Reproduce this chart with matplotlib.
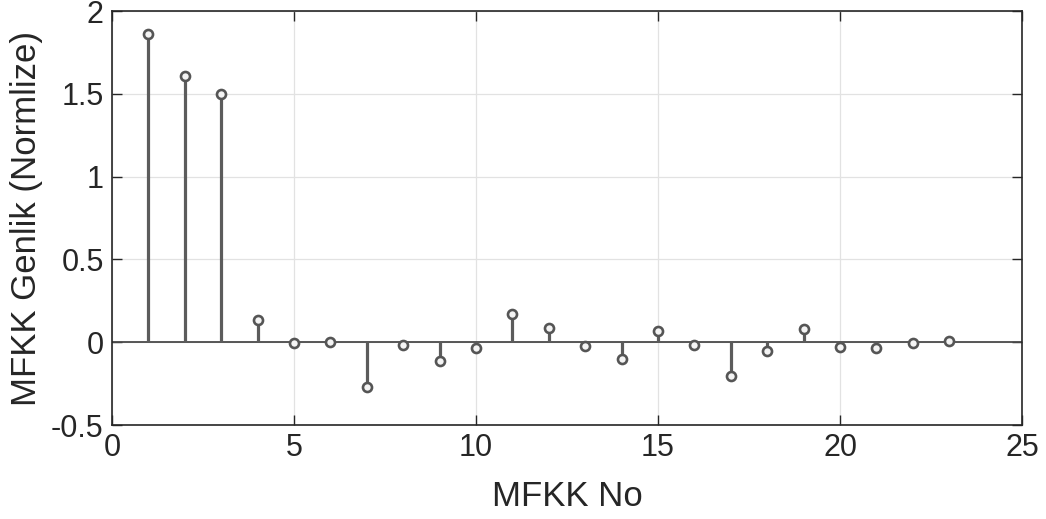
import numpy as np
import matplotlib as mpl
import matplotlib.pyplot as plt

mpl.rcParams["font.family"] = ["Liberation Sans", "DejaVu Sans"]

# MFCC coefficient index and normalised amplitude
mfkk_no = list(range(1, 24))
genlik = [1.863, 1.606, 1.497, 0.132, -0.005, 0.003, -0.269, -0.015, -0.112,
          -0.033, 0.170, 0.086, -0.021, -0.100, 0.068, -0.015, -0.202, -0.051,
          0.080, -0.027, -0.033, -0.003, 0.009]

x_ticks = [0, 5, 10, 15, 20, 25]
y_ticks = [-0.5, 0, 0.5, 1, 1.5, 2]
y_ticklabels = ["-0.5", "0", "0.5", "1", "1.5", "2"]

STEM = "#5c5c5c"
INK = "#262626"

fig = plt.figure(figsize=(10.46, 5.19), dpi=100)
ax = fig.add_axes([0.1071, 0.1811, 0.8700, 0.7977])

ax.grid(True, color="#e2e2e2", linewidth=0.9)
ax.set_axisbelow(True)
ax.axhline(0, color="#4a4a4a", linewidth=1.3, zorder=2)

markerline, stemlines, baseline = ax.stem(mfkk_no, genlik, basefmt=" ")
plt.setp(stemlines, color=STEM, linewidth=2.3, zorder=3)
plt.setp(markerline, marker="o", markersize=6.5, markerfacecolor="#f4f4f4",
         markeredgecolor="#555555", markeredgewidth=1.9, zorder=4)

ax.set_xlim(0, 25)
ax.set_ylim(-0.5, 2)
ax.set_xticks(x_ticks)
ax.set_yticks(y_ticks)
ax.set_yticklabels(y_ticklabels)

ax.tick_params(direction="in", top=True, right=True, length=7, width=1.0,
               color=INK, labelsize=22, labelcolor=INK, pad=6)
for s in ax.spines.values():
    s.set_color(INK)
    s.set_linewidth(1.2)

ax.set_xlabel("MFKK No", fontsize=25, color=INK, labelpad=12)
ax.set_ylabel("MFKK Genlik (Normlize)", fontsize=25, color=INK, labelpad=6)

fig.savefig("out.png", dpi=100, facecolor="white")
